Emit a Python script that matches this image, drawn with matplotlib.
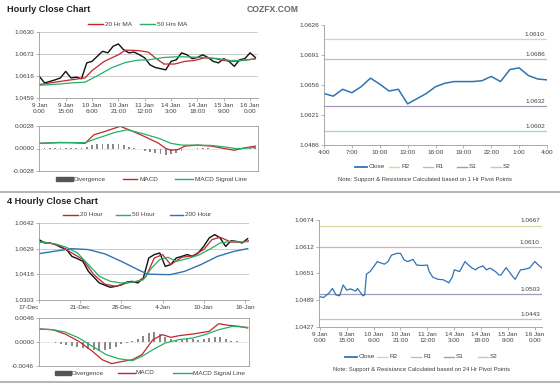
import numpy as np
import matplotlib
matplotlib.use("Agg")
from matplotlib import pyplot as plt
from matplotlib.lines import Line2D
from matplotlib.patches import Rectangle

plt.rcParams['font.family'] = ['Liberation Sans', 'DejaVu Sans']

W, H = 560, 385

# ---- Hourly close chart (top left) ----
hrHours = np.arange(0, 124, 3)
hrClose = [1.0615, 1.0598, 1.0602, 1.0606, 1.0611, 1.0628, 1.0611, 1.0613, 1.0609, 1.0650,
           1.0654, 1.0667, 1.0680, 1.0676, 1.0693, 1.0699, 1.0684, 1.0676, 1.0678, 1.0671,
           1.0663, 1.0645, 1.0638, 1.0635, 1.0632, 1.0654, 1.0658, 1.0676, 1.0671, 1.0661,
           1.0664, 1.0671, 1.0664, 1.0654, 1.0650, 1.0661, 1.0654, 1.0641, 1.0658, 1.0661,
           1.0676, 1.0664]
ma20Hours = [0, 12, 18, 26, 30, 37, 45, 49, 56, 62, 66, 71, 77, 83, 88, 94, 100, 105, 111, 117, 123]
ma20 = [1.0594, 1.0602, 1.0606, 1.0611, 1.0630, 1.0654, 1.0671, 1.0683, 1.0682, 1.0678, 1.0663,
        1.0647, 1.0647, 1.0654, 1.0656, 1.0663, 1.0661, 1.0656, 1.0654, 1.0657, 1.0661]
ma50Hours = [0, 11, 18, 26, 34, 41, 49, 56, 62, 71, 79, 87, 94, 102, 109, 117, 123]
ma50 = [1.0592, 1.0595, 1.0598, 1.0600, 1.0619, 1.0637, 1.0651, 1.0657, 1.0658, 1.0664, 1.0666,
        1.0665, 1.0664, 1.0661, 1.0656, 1.0657, 1.0660]
hrTickLabels = ["9 Jan\n0:00", "9 Jan\n15:00", "10 Jan\n6:00", "10 Jan\n21:00", "11 Jan\n12:00",
                "14 Jan\n3:00", "14 Jan\n18:00", "15 Jan\n9:00", "16 Jan\n0:00"]

macdHours = [0, 11, 18, 26, 31, 37, 46, 52, 60, 68, 72, 75, 79, 83, 90, 98, 105, 111, 117, 123]
macd = [0.00064, 0.00072, 0.00072, 0.00064, 0.0017, 0.0021, 0.00276, 0.00225, 0.00148, 0.00064,
        0.0, -0.00021, -0.00013, 0.0003, 0.00042, 0.0003, 0.0, -0.00021, 0.00008, 0.0003]
signalHours = [0, 11, 26, 33, 43, 50, 58, 68, 75, 81, 90, 98, 105, 113, 123]
signal = [0.00064, 0.00076, 0.00072, 0.00127, 0.0020, 0.00233, 0.0019, 0.00127, 0.00064, 0.00042,
          0.00042, 0.00038, 0.00021, -0.00004, 0.00013]
divergence = [0, 0.00003, 0.00003, 0.00003, 0.00003, 0.00005, 0.00003, 0.00003, 0.00003, 0.0002,
              0.0004, 0.0005, 0.0006, 0.0006, 0.0006, 0.0005, 0.0004, 0.0002, 0.0001, -0.0001,
              -0.0003, -0.0004, -0.0006, -0.0007, -0.0008, -0.0007, -0.0005, -0.0003, -0.0001, 0.0,
              0.00005, 0.00005, 0.00003, 0.0, -0.00003, -0.00005, -0.00005, 0.0, 0.00003, 0.00005,
              0.00005, 0.00003]

# ---- Last 24 hours with 1 Hr pivots (top right) ----
dayHours = np.arange(0, 25)
dayClose = [1.0546, 1.0543, 1.0551, 1.0547, 1.0554, 1.0564, 1.0557, 1.0549, 1.0551, 1.0534,
            1.0540, 1.0546, 1.0554, 1.0558, 1.0560, 1.0560, 1.0560, 1.0561, 1.0566, 1.0560,
            1.0574, 1.0576, 1.0567, 1.0563, 1.0562]
dayLevels = {'R2': 1.0610, 'R1': 1.0586, 'S1': 1.0531, 'S2': 1.0502}
dayLevelText = {'R2': '1.0610', 'R1': '1.0686', 'S1': '1.0632', 'S2': '1.0602'}
dayTickLabels = ["4:00", "7:00", "10:00", "13:00", "16:00", "19:00", "22:00", "1:00", "4:00"]

# ---- 4 Hourly close chart (bottom left) ----
h4Idx = np.arange(0, 153, 4)
h4Close = [1.0569, 1.0554, 1.0554, 1.0547, 1.0535, 1.0525, 1.0495, 1.0485, 1.0473, 1.0429,
           1.0403, 1.0378, 1.0368, 1.0359, 1.0363, 1.0370, 1.0382, 1.0385, 1.0378, 1.0400,
           1.0488, 1.0503, 1.0510, 1.0451, 1.0459, 1.0488, 1.0495, 1.0503, 1.0495, 1.0510,
           1.0539, 1.0576, 1.0591, 1.0576, 1.0539, 1.0564, 1.0561, 1.0554, 1.0573]
ma20hIdx = [0, 8, 16, 24, 32, 40, 48, 56, 64, 72, 78, 84, 90, 96, 104, 112, 120, 126, 132, 140, 148, 153]
ma20h = [1.0561, 1.0554, 1.0539, 1.0510, 1.0481, 1.0414, 1.0373, 1.0363, 1.0378, 1.0385, 1.0407,
         1.0488, 1.0503, 1.0459, 1.0491, 1.0498, 1.0525, 1.0569, 1.0579, 1.0558, 1.0558, 1.0564]
ma50hIdx = [0, 12, 20, 28, 36, 44, 52, 60, 68, 76, 82, 88, 94, 100, 108, 116, 124, 132, 140, 148, 153]
ma50h = [1.0558, 1.0550, 1.0535, 1.0510, 1.0459, 1.0407, 1.0385, 1.0378, 1.0382, 1.0392, 1.0444,
         1.0481, 1.0491, 1.0473, 1.0485, 1.0500, 1.0525, 1.0554, 1.0561, 1.0558, 1.0561]
ma200hIdx = [0, 14, 24, 36, 48, 60, 72, 79, 91, 96, 106, 118, 130, 142, 152]
ma200h = [1.0507, 1.0520, 1.0529, 1.0525, 1.0506, 1.0473, 1.0437, 1.0417, 1.0415, 1.0415, 1.0429,
          1.0459, 1.0495, 1.0517, 1.0529]
h4TickLabels = ["17-Dec", "21-Dec", "28-Dec", "4-Jan", "10-Jan", "16-Jan"]

macd4Idx = [0, 10, 19, 29, 39, 46, 53, 61, 68, 75, 83, 90, 96, 102, 112, 124, 131, 138, 146, 152]
macd4 = [0.00249, 0.00236, 0.00153, 0.00013, -0.00179, -0.00339, -0.00415, -0.00371, -0.00339,
         -0.00243, 0.00045, 0.00141, 0.00089, 0.00121, 0.00153, 0.00204, 0.00351, 0.0032, 0.003, 0.00268]
signal4Idx = [0, 10, 19, 29, 39, 49, 58, 68, 75, 83, 92, 102, 112, 121, 131, 141, 152]
signal4 = [0.00249, 0.00236, 0.00192, 0.00077, -0.00083, -0.00243, -0.0032, -0.00358, -0.00275,
           -0.00147, -0.00019, 0.00045, 0.00077, 0.00141, 0.00236, 0.003, 0.00281]
div4 = [0, 0, 0, -0.0002, -0.0004, -0.0006, -0.0008, -0.0010, -0.0012, -0.0014, -0.0016, -0.0017,
        -0.0016, -0.0013, -0.0009, -0.0004, -0.0001, 0.0002, 0.0006, 0.0012, 0.0018, 0.0020, 0.0016,
        0.0009, 0.0005, 0.0004, 0.0004, 0.0005, 0.0005, 0.0004, 0.0005, 0.0008, 0.0010, 0.0009,
        0.0005, 0.0002, 0.0001, 0.0, 0.0]

# ---- Hourly close with 24 Hr pivots (bottom right) ----
wkHours = [0, 2, 5, 7, 9, 11, 13, 15, 17, 20, 21, 24, 25, 26, 28, 30, 32, 34, 36, 38, 40, 43, 45,
           47, 49, 52, 54, 57, 60, 61, 63, 66, 69, 72, 74, 75, 78, 81, 83, 85, 87, 88, 91, 93, 95,
           98, 100, 101, 104, 107, 109, 112, 114, 117, 120, 122, 124]
wkClose = [1.0497, 1.0495, 1.0505, 1.0516, 1.0501, 1.0499, 1.0524, 1.0512, 1.0515, 1.0510, 1.0516,
           1.0499, 1.0501, 1.0549, 1.0555, 1.0566, 1.0578, 1.0575, 1.0572, 1.0578, 1.0593, 1.0597,
           1.0597, 1.0582, 1.0578, 1.0583, 1.0570, 1.0569, 1.0570, 1.0555, 1.0542, 1.0537, 1.0536,
           1.0529, 1.0543, 1.0559, 1.0555, 1.0578, 1.0570, 1.0563, 1.0559, 1.0563, 1.0568, 1.0559,
           1.0563, 1.0555, 1.0547, 1.0547, 1.0564, 1.0547, 1.0537, 1.0559, 1.0560, 1.0563, 1.0578,
           1.0570, 1.0563]
wkLevels = {'R2': 1.0661, 'R1': 1.0612, 'S1': 1.0503, 'S2': 1.0445}
wkLevelText = {'R2': '1.0667', 'R1': '1.0610', 'S1': '1.0503', 'S2': '1.0443'}

levelColors = {'R2': '#d9d6a0', 'R1': '#dcaeae', 'S1': '#a49ab8', 'S2': '#9fd0dc'}
RED = '#c0272d'
GREEN = '#27ae68'
BLUE = '#2e74b5'
GRID = '#c4c4c4'
SPINE = '#9a9a9a'
TXT = '#404040'
FS = 4.6


def box(x0, y0, x1, y1):
    return [x0 / W, 1 - y1 / H, (x1 - x0) / W, (y1 - y0) / H]


def fx(x):
    return x / W


def fy(y):
    return 1 - y / H


def basicAxis(ax):
    for s in ax.spines.values():
        s.set_color(SPINE)
        s.set_linewidth(0.6)
    ax.tick_params(length=2, width=0.5, color=SPINE, labelsize=FS, labelcolor=TXT, pad=1.5)


def legLine(x0, x1, y, color, lw=1.0):
    fig.add_artist(Line2D([fx(x0), fx(x1)], [fy(y), fy(y)], color=color, lw=lw))


def legText(x, y, s):
    fig.text(fx(x), fy(y), s, fontsize=FS, va='center', ha='left', color=TXT)


def legBlock(x0, x1, y):
    fig.add_artist(Rectangle((fx(x0), fy(y + 1.6)), (x1 - x0) / W, 3.2 / H,
                             color='#555555', transform=fig.transFigure))


fig = plt.figure(figsize=(5.6, 3.85), dpi=100)

fig.text(fx(7), fy(9), "Hourly Close Chart", fontsize=6.6, fontweight='bold', color='#222222', va='center')
fig.text(fx(247), fy(10), "COZFX.COM", fontsize=6.2, fontweight='bold', color='#666666', va='center')
fig.text(fx(7), fy(202), "4 Hourly Close Chart", fontsize=6.6, fontweight='bold', color='#222222', va='center')

for ySep in [192, 382]:
    fig.add_artist(Line2D([0, 1], [fy(ySep), fy(ySep)], color='#b4b4b4', lw=1.4))

# top left price
ax1 = fig.add_axes(box(39, 32, 258, 98))
ax1.plot(hrHours, hrClose, color='#111111', lw=1.0)
ax1.plot(ma20Hours, ma20, color=RED, lw=0.9)
ax1.plot(ma50Hours, ma50, color=GREEN, lw=0.9)
ax1.set_xlim(-0.2, 124.5)
ax1.set_ylim(1.0559, 1.0730)
basicAxis(ax1)
ax1.spines['top'].set_visible(False)
ax1.spines['right'].set_visible(False)
ax1.set_yticks([1.0559, 1.0616, 1.0673, 1.0730])
ax1.set_yticklabels(['1.0459', '1.0616', '1.0673', '1.0630'])
ax1.set_xticks(np.arange(0, 121, 15))
ax1.set_xticklabels(hrTickLabels, linespacing=1.3)
ax1.grid(axis='y', color=GRID, lw=0.6)
ax1.set_axisbelow(True)

legLine(88, 103, 24, RED)
legText(105, 24, "20 Hr MA")
legLine(140, 155, 24, GREEN)
legText(157, 24, "50 Hrs MA")

# top left MACD
ax2 = fig.add_axes(box(39, 126, 258, 171))
ax2.bar(hrHours, divergence, width=1.0, color='#8a8a8a')
ax2.axhline(0, color='#b0b0b0', lw=0.5, ls=':')
ax2.plot(macdHours, macd, color=RED, lw=0.9)
ax2.plot(signalHours, signal, color=GREEN, lw=0.9)
ax2.set_xlim(-0.2, 124.5)
ax2.set_ylim(-0.0028, 0.0028)
basicAxis(ax2)
ax2.set_xticks([])
ax2.set_yticks([-0.0028, 0, 0.0028])
ax2.set_yticklabels(['-0.0028', '0.0000', '0.0028'])

legBlock(56, 73, 179)
legText(74, 179, "Divergence")
legLine(123, 137, 179, RED)
legText(139, 179, "MACD")
legLine(175, 193, 179, GREEN)
legText(195, 179, "MACD Signal Line")

# top right
ax3 = fig.add_axes(box(324, 25, 547, 145))
for k in ['R2', 'R1', 'S1', 'S2']:
    ax3.axhline(dayLevels[k], color=levelColors[k], lw=0.9)
    ax3.text(0.99, dayLevels[k] + 0.00025, dayLevelText[k], transform=ax3.get_yaxis_transform(),
             ha='right', va='bottom', fontsize=FS, color=TXT)
ax3.plot(dayHours, dayClose, color=BLUE, lw=1.1)
ax3.set_xlim(0, 24)
ax3.set_ylim(1.0486, 1.0626)
basicAxis(ax3)
ax3.spines['top'].set_visible(False)
ax3.spines['right'].set_visible(False)
ax3.set_yticks([1.0486, 1.0521, 1.0556, 1.0591, 1.0626])
ax3.set_yticklabels(['1.0486', '1.0621', '1.0656', '1.0691', '1.0626'])
ax3.set_xticks(np.arange(0, 25, 3))
ax3.set_xticklabels(dayTickLabels)

legLine(355, 367, 167, BLUE, lw=1.3)
legText(369, 167, "Close")
for k, xs in zip(['R2', 'R1', 'S1', 'S2'], [389, 423, 457, 491]):
    legLine(xs, xs + 10, 167, levelColors[k])
    legText(xs + 12, 167, k)
fig.text(fx(425), fy(179.5), "Note: Support & Resistance Calculated based on 1 Hr Pivot Points",
         fontsize=4.2, ha='center', va='center', color=TXT)

# bottom left price
ax4 = fig.add_axes(box(39, 223, 249, 300))
ax4.plot(h4Idx, h4Close, color='#111111', lw=1.0)
ax4.plot(ma20hIdx, ma20h, color=RED, lw=0.9)
ax4.plot(ma50hIdx, ma50h, color=GREEN, lw=0.9)
ax4.plot(ma200hIdx, ma200h, color=BLUE, lw=1.0)
ax4.set_xlim(0, 153)
ax4.set_ylim(1.0303, 1.0642)
basicAxis(ax4)
ax4.spines['top'].set_visible(False)
ax4.spines['right'].set_visible(False)
ax4.set_yticks([1.0303, 1.0416, 1.0529, 1.0642])
ax4.set_yticklabels(['1.0303', '1.0416', '1.0629', '1.0642'])
ax4.set_xticks(np.arange(0, 151, 30))
ax4.set_xticklabels(h4TickLabels)
ax4.get_xticklabels()[0].set_horizontalalignment('right')
ax4.grid(axis='y', color=GRID, lw=0.6)
ax4.set_axisbelow(True)

legLine(63, 78, 215, RED)
legText(80, 215, "20 Hour")
legLine(116, 130, 215, GREEN)
legText(132, 215, "50 Hour")
legLine(170, 183, 215, BLUE)
legText(185, 215, "200 Hour")

# bottom left MACD
ax5 = fig.add_axes(box(39, 318, 249, 366))
ax5.bar(h4Idx, div4, width=1.4, color='#8a8a8a')
ax5.axhline(0, color='#b0b0b0', lw=0.5, ls=':')
ax5.plot(macd4Idx, macd4, color=RED, lw=0.9)
ax5.plot(signal4Idx, signal4, color=GREEN, lw=0.9)
ax5.set_xlim(0, 153)
ax5.set_ylim(-0.0046, 0.0046)
basicAxis(ax5)
ax5.set_xticks([])
ax5.set_yticks([-0.0046, 0, 0.0046])
ax5.set_yticklabels(['-0.0046', '0.0000', '0.0046'])

legBlock(55, 71, 373)
legText(72, 373, "Divergence")
legLine(118, 135, 373, RED)
legText(136, 373, "MACD")
legLine(173, 192, 373, GREEN)
legText(193, 373, "MACD Signal Line")

# bottom right
ax6 = fig.add_axes(box(319, 220, 542, 327))
for k in ['R2', 'R1', 'S1', 'S2']:
    ax6.axhline(wkLevels[k], color=levelColors[k], lw=0.9)
    ax6.text(0.99, wkLevels[k] + 0.0005, wkLevelText[k], transform=ax6.get_yaxis_transform(),
             ha='right', va='bottom', fontsize=FS, color=TXT)
ax6.plot(wkHours, wkClose, color=BLUE, lw=0.9)
ax6.set_xlim(-0.5, 124)
ax6.set_ylim(1.0427, 1.0674)
basicAxis(ax6)
ax6.spines['top'].set_visible(False)
ax6.spines['right'].set_visible(False)
ax6.set_yticks([1.0427, 1.0489, 1.0551, 1.0612, 1.0674])
ax6.set_yticklabels(['1.0427', '1.0489', '1.0651', '1.0612', '1.0674'])
ax6.set_xticks(np.arange(0, 121, 15))
ax6.set_xticklabels(hrTickLabels, linespacing=1.3)

legLine(345, 357, 357, BLUE, lw=1.3)
legText(359, 357, "Close")
for k, xs in zip(['R2', 'R1', 'S1', 'S2'], [377, 411, 444, 478]):
    legLine(xs, xs + 10, 357, levelColors[k])
    legText(xs + 12, 357, k)
fig.text(fx(422), fy(369.5), "Note: Support & Resistance Calculated based on 24 Hr Pivot Points",
         fontsize=4.2, ha='center', va='center', color=TXT)

fig.savefig("out.png", dpi=100, facecolor='white')
